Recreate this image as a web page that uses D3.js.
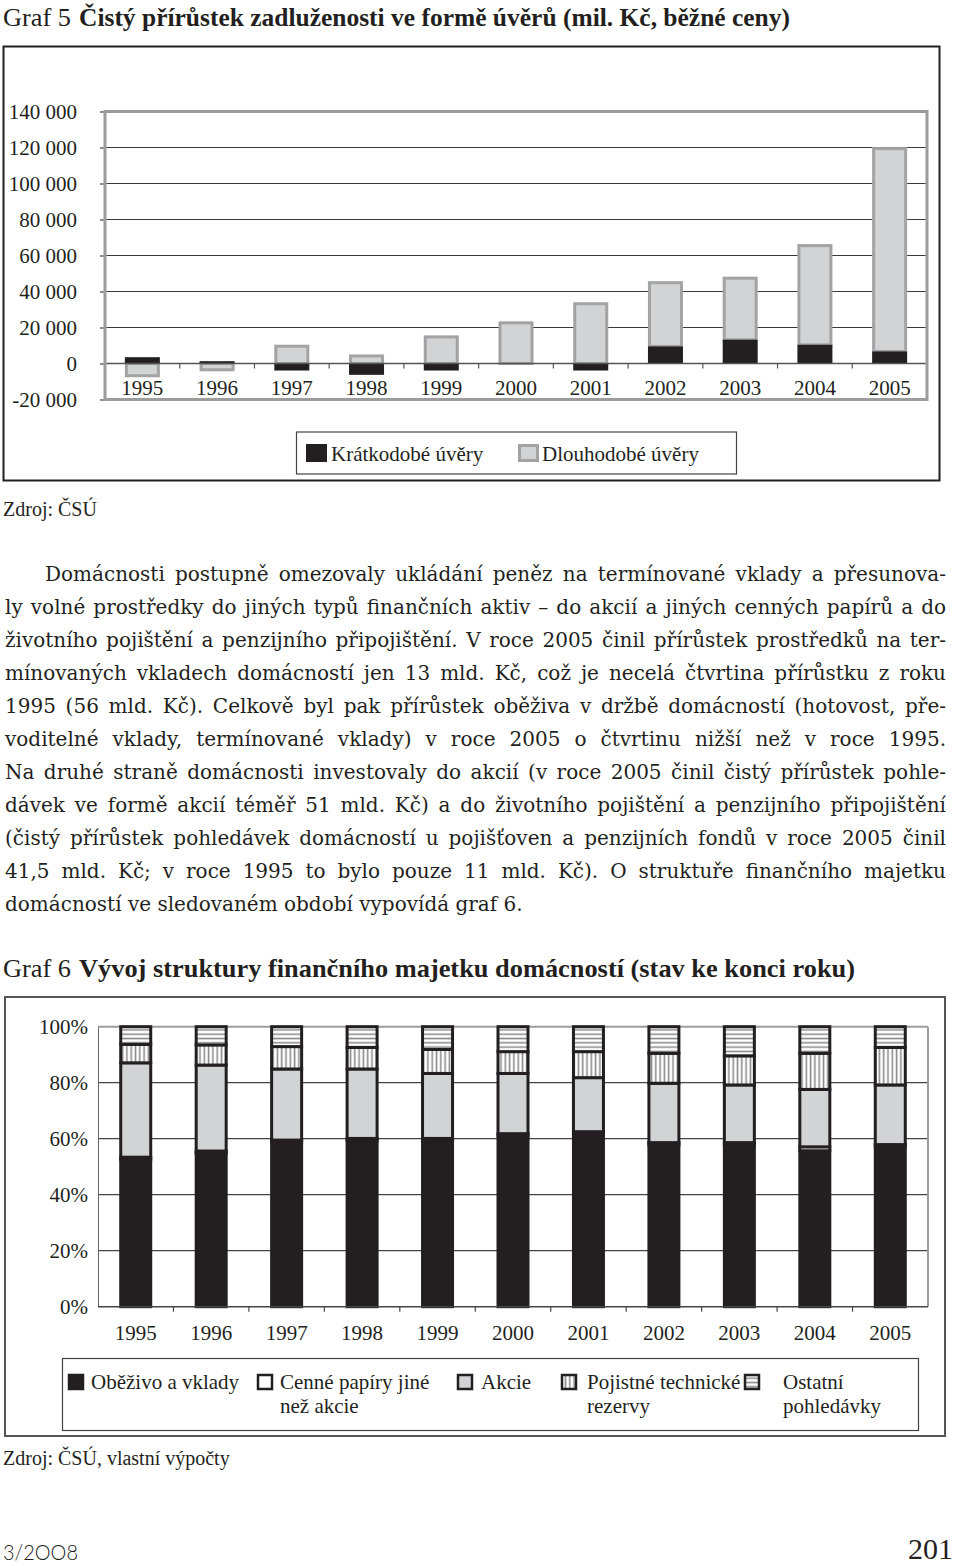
<!DOCTYPE html>
<html>
<head>
<meta charset="utf-8">
<script src="https://cdn.jsdelivr.net/npm/d3@7"></script>
<style>
body { margin: 0; background: #fff; }
svg { display: block; }
</style>
</head>
<body>
<svg id="page" width="960" height="1566"></svg>
<script>
// --- Graf 5: net increase of loans (mil. Kc)
var years = ["1995", "1996", "1997", "1998", "1999", "2000", "2001", "2002", "2003", "2004", "2005"];
var kratkodobe = [3500, 1300, -3900, -6300, -3900, 0, -3900, 9500, 13200, 10400, 6700];
var dlouhodobe = [-6800, -3500, 9600, 4200, 14800, 22600, 33200, 35400, 34200, 55100, 112700];
var loanTicks = [-20000, 0, 20000, 40000, 60000, 80000, 100000, 120000, 140000];
var loanNames = ["Krátkodobé úvěry", "Dlouhodobé úvěry"];

// --- Graf 6: structure of household financial assets (%)
var obezivo = [52.6, 54.8, 58.7, 59.3, 59.3, 61.0, 61.7, 57.8, 57.8, 55.7, 57.1];
var cennePapiry = [0.8, 0.8, 0.8, 0.8, 0.8, 0.8, 0.8, 0.8, 0.8, 1.4, 0.8];
var akcie = [33.7, 30.7, 25.4, 24.8, 23.2, 21.5, 19.3, 21.2, 20.6, 20.5, 21.3];
var pojistne = [6.6, 7.2, 8.0, 7.7, 8.6, 7.8, 9.3, 10.7, 10.4, 12.9, 13.4];
var ostatni = [6.3, 6.5, 7.1, 7.4, 8.1, 8.9, 8.9, 9.5, 10.4, 9.5, 7.4];
var shareTicks = [0, 20, 40, 60, 80, 100];
var assetNames = [["Oběživo a vklady"], ["Cenné papíry jiné", "než akcie"], ["Akcie"],
                  ["Pojistné technické", "rezervy"], ["Ostatní", "pohledávky"]];

var bodyLines = [
  "Domácnosti postupně omezovaly ukládání peněz na termínované vklady a přesunova-",
  "ly volné prostředky do jiných typů finančních aktiv – do akcií a jiných cenných papírů a do",
  "životního pojištění a penzijního připojištění. V roce 2005 činil přírůstek prostředků na ter-",
  "mínovaných vkladech domácností jen 13 mld. Kč, což je necelá čtvrtina přírůstku z roku",
  "1995 (56 mld. Kč). Celkově byl pak přírůstek oběživa v držbě domácností (hotovost, pře-",
  "voditelné vklady, termínované vklady) v roce 2005 o čtvrtinu nižší než v roce 1995.",
  "Na druhé straně domácnosti investovaly do akcií (v roce 2005 činil čistý přírůstek pohle-",
  "dávek ve formě akcií téměř 51 mld. Kč) a do životního pojištění a penzijního připojištění",
  "(čistý přírůstek pohledávek domácností u pojišťoven a penzijních fondů v roce 2005 činil",
  "41,5 mld. Kč; v roce 1995 to bylo pouze 11 mld. Kč). O struktuře finančního majetku",
  "domácností ve sledovaném období vypovídá graf 6."
];

var serif = "'Liberation Serif', 'Times New Roman', serif";
var bodyFont = "'DejaVu Serif', serif";
var dark = "#231f20";

var svg = d3.select("#page");

var defs = svg.append("defs");
var vp = defs.append("pattern").attr("id", "vstripe").attr("patternUnits", "userSpaceOnUse")
    .attr("width", 4.3).attr("height", 10);
vp.append("rect").attr("width", 4.3).attr("height", 10).attr("fill", "#fff");
vp.append("rect").attr("x", 1.4).attr("width", 1.6).attr("height", 10).attr("fill", "#8c8c8c");
var hp = defs.append("pattern").attr("id", "hstripe").attr("patternUnits", "userSpaceOnUse")
    .attr("width", 10).attr("height", 4.3);
hp.append("rect").attr("width", 10).attr("height", 4.3).attr("fill", "#fff");
hp.append("rect").attr("y", 1.4).attr("width", 10).attr("height", 1.6).attr("fill", "#8c8c8c");

function title(baseline, num, bold, boldLen) {
  svg.append("text").attr("x", 3).attr("y", baseline)
      .attr("font-family", serif).attr("font-size", 25).attr("fill", dark)
      .attr("textLength", 68).attr("lengthAdjust", "spacingAndGlyphs").text(num);
  svg.append("text").attr("x", 79).attr("y", baseline)
      .attr("font-family", serif).attr("font-size", 25).attr("font-weight", "bold").attr("fill", dark)
      .attr("textLength", boldLen).attr("lengthAdjust", "spacingAndGlyphs").text(bold);
}

title(26, "Graf 5", "Čistý přírůstek zadluženosti ve formě úvěrů (mil. Kč, běžné ceny)", 711);

// ================= Graf 5 =================
svg.append("rect").attr("x", 3.5).attr("y", 46.5).attr("width", 936).attr("height", 434)
    .attr("fill", "none").attr("stroke", dark).attr("stroke-width", 2);

var x1 = d3.scaleBand().domain(years).range([105, 927]);
var y1 = d3.scaleLinear().domain([-20000, 140000]).range([399.5, 111.5]);

var g1 = svg.append("g");

g1.selectAll(".grid1").data(loanTicks.filter(function(d) { return d > 0 && d < 140000; }))
  .enter().append("line")
    .attr("x1", 105).attr("x2", 927)
    .attr("y1", function(d) { return y1(d); }).attr("y2", function(d) { return y1(d); })
    .attr("stroke", "#3a3a3a").attr("stroke-width", 1.2);

var fmt = function(v) { return d3.format(",")(v).replace(/,/g, " ").replace("−", "-"); };
var yAxis1 = g1.append("g").attr("transform", "translate(105,0)")
    .call(d3.axisLeft(y1).tickValues(loanTicks).tickSize(5).tickPadding(23).tickFormat(fmt));
yAxis1.select(".domain").remove();
yAxis1.selectAll("line").attr("stroke", dark);
yAxis1.selectAll("text").attr("font-family", serif).attr("font-size", 21).attr("fill", dark);

var loanRows = years.map(function(y, i) { return {year: y, k: kratkodobe[i], d: dlouhodobe[i]}; });
var loanStack = d3.stack().keys(["k", "d"]).offset(d3.stackOffsetDiverging)(loanRows);

var bw1 = 32;
g1.append("g").selectAll("rect").data(loanStack[1])
  .enter().append("rect")
    .attr("x", function(d) { return x1(d.data.year) + x1.bandwidth() / 2 - bw1 / 2; })
    .attr("y", function(d) { return y1(Math.max(d[0], d[1])); })
    .attr("width", bw1)
    .attr("height", function(d) { return Math.abs(y1(d[0]) - y1(d[1])); })
    .attr("fill", "#d1d3d4").attr("stroke", "#a3a3a3").attr("stroke-width", 3);
g1.append("g").selectAll("rect").data(loanStack[0])
  .enter().append("rect")
    .attr("x", function(d) { return x1(d.data.year) + x1.bandwidth() / 2 - (bw1 + 3) / 2; })
    .attr("y", function(d) { return y1(Math.max(d[0], d[1])); })
    .attr("width", bw1 + 3)
    .attr("height", function(d) { return Math.abs(y1(d[0]) - y1(d[1])); })
    .attr("fill", dark);

// zero line + category ticks
g1.append("line").attr("x1", 105).attr("x2", 927).attr("y1", y1(0)).attr("y2", y1(0))
    .attr("stroke", "#555").attr("stroke-width", 1.4);
g1.selectAll(".xt1").data(years.slice(1)).enter().append("line")
    .attr("x1", function(d) { return x1(d); }).attr("x2", function(d) { return x1(d); })
    .attr("y1", y1(0)).attr("y2", y1(0) + 5).attr("stroke", "#555").attr("stroke-width", 1.2);

g1.selectAll(".xl1").data(years).enter().append("text")
    .attr("x", function(d) { return x1(d) + x1.bandwidth() / 2; }).attr("y", 395)
    .attr("text-anchor", "middle").attr("font-family", serif).attr("font-size", 21).attr("fill", dark)
    .text(function(d) { return d; });

// plot frame
g1.append("rect").attr("x", 105).attr("y", 111.5).attr("width", 822).attr("height", 288)
    .attr("fill", "none").attr("stroke", "#9c9c9c").attr("stroke-width", 3);

// legend 1
var l1 = svg.append("g");
l1.append("rect").attr("x", 296.5).attr("y", 432).attr("width", 440).attr("height", 42)
    .attr("fill", "#fff").attr("stroke", "#444").attr("stroke-width", 1.2);
l1.append("rect").attr("x", 306).attr("y", 444).attr("width", 21).attr("height", 18).attr("fill", dark);
l1.append("rect").attr("x", 519.5).attr("y", 445.5).attr("width", 18).attr("height", 15)
    .attr("fill", "#d1d3d4").attr("stroke", "#a3a3a3").attr("stroke-width", 3);
l1.selectAll(".lt").data(loanNames).enter().append("text")
    .attr("x", function(d, i) { return i ? 542 : 331; }).attr("y", 461)
    .attr("font-family", serif).attr("font-size", 21).attr("fill", dark)
    .text(function(d) { return d; });

svg.append("text").attr("x", 3).attr("y", 516).attr("font-family", serif).attr("font-size", 20)
    .attr("fill", dark).text("Zdroj: ČSÚ");

// ================= body text =================
var body = svg.append("g");
bodyLines.forEach(function(line, i) {
  var x0 = i === 0 ? 45 : 5;
  var t = body.append("text").attr("x", x0).attr("y", 581 + 33 * i)
      .attr("font-family", bodyFont).attr("font-size", 20).attr("fill", dark).text(line);
  var natural = t.node().getComputedTextLength();
  var target = 946 - x0;
  if (i < bodyLines.length - 1) {
    var spaces = (line.match(/ /g) || []).length;
    if (natural < target) {
      t.attr("word-spacing", (target - natural) / spaces);
    } else {
      t.attr("textLength", target).attr("lengthAdjust", "spacingAndGlyphs");
    }
  }
});

// ================= Graf 6 =================
title(977, "Graf 6", "Vývoj struktury finančního majetku domácností (stav ke konci roku)", 776);

svg.append("rect").attr("x", 5).attr("y", 997).attr("width", 940).attr("height", 439)
    .attr("fill", "none").attr("stroke", "#555").attr("stroke-width", 2);

var x2 = d3.scaleBand().domain(years).range([98, 928]);
var y2 = d3.scaleLinear().domain([0, 100]).range([1306.7, 1026.7]);
var g2 = svg.append("g");

g2.selectAll(".grid2").data(shareTicks.filter(function(d) { return d > 0 && d < 100; }))
  .enter().append("line")
    .attr("x1", 98).attr("x2", 928)
    .attr("y1", function(d) { return y2(d); }).attr("y2", function(d) { return y2(d); })
    .attr("stroke", "#444").attr("stroke-width", 1.2);
g2.append("line").attr("x1", 98).attr("x2", 928).attr("y1", y2(100)).attr("y2", y2(100))
    .attr("stroke", "#9c9c9c").attr("stroke-width", 2);
g2.append("line").attr("x1", 928).attr("x2", 928).attr("y1", y2(100)).attr("y2", y2(0))
    .attr("stroke", "#9c9c9c").attr("stroke-width", 2);

var yAxis2 = g2.append("g").attr("transform", "translate(98,0)")
    .call(d3.axisLeft(y2).tickValues(shareTicks).tickSize(0).tickPadding(10)
      .tickFormat(function(d) { return d + "%"; }));
yAxis2.select(".domain").attr("stroke", "#666");
yAxis2.selectAll("text").attr("font-family", serif).attr("font-size", 21).attr("fill", dark);

var assetRows = years.map(function(y, i) {
  return {year: y, a: obezivo[i], b: cennePapiry[i], c: akcie[i], d: pojistne[i], e: ostatni[i]};
});
var assetKeys = ["a", "b", "c", "d", "e"];
var assetFills = [dark, "#fff", "#d1d3d4", "url(#vstripe)", "url(#hstripe)"];
var assetStack = d3.stack().keys(assetKeys)(assetRows);

var bw2 = 30;
g2.selectAll(".series").data(assetStack).enter().append("g")
    .attr("fill", function(d, i) { return assetFills[i]; })
  .selectAll("rect").data(function(d) { return d; }).enter().append("rect")
    .attr("x", function(d) { return x2(d.data.year) + x2.bandwidth() / 2 - bw2 / 2; })
    .attr("y", function(d) { return y2(d[1]); })
    .attr("width", bw2)
    .attr("height", function(d) { return y2(d[0]) - y2(d[1]); })
    .attr("stroke", dark).attr("stroke-width", 3);

g2.append("line").attr("x1", 98).attr("x2", 928).attr("y1", y2(0)).attr("y2", y2(0))
    .attr("stroke", "#444").attr("stroke-width", 1.4);
g2.selectAll(".xt2").data(years.slice(1)).enter().append("line")
    .attr("x1", function(d) { return x2(d); }).attr("x2", function(d) { return x2(d); })
    .attr("y1", y2(0)).attr("y2", y2(0) + 5).attr("stroke", "#444").attr("stroke-width", 1.2);
g2.selectAll(".xl2").data(years).enter().append("text")
    .attr("x", function(d) { return x2(d) + x2.bandwidth() / 2; }).attr("y", 1340)
    .attr("text-anchor", "middle").attr("font-family", serif).attr("font-size", 21).attr("fill", dark)
    .text(function(d) { return d; });

// legend 2
var l2 = svg.append("g");
l2.append("rect").attr("x", 62.5).attr("y", 1358.5).attr("width", 856).attr("height", 72)
    .attr("fill", "#fff").attr("stroke", "#444").attr("stroke-width", 1.2);
var swatchX = [69, 258, 458, 562, 745];
var textX = [91, 280, 481, 587, 783];
var items = l2.selectAll(".item").data(assetNames).enter().append("g");
items.append("rect")
    .attr("x", function(d, i) { return swatchX[i]; }).attr("y", 1375)
    .attr("width", 14).attr("height", 14)
    .attr("fill", function(d, i) { return assetFills[i]; })
    .attr("stroke", dark).attr("stroke-width", 2.5);
items.each(function(d, i) {
  d3.select(this).selectAll("text").data(d).enter().append("text")
      .attr("x", textX[i]).attr("y", function(s, j) { return 1389 + 24 * j; })
      .attr("font-family", serif).attr("font-size", 21).attr("fill", dark)
      .text(function(s) { return s; });
});

svg.append("text").attr("x", 3).attr("y", 1465).attr("font-family", serif).attr("font-size", 20)
    .attr("fill", dark).text("Zdroj: ČSÚ, vlastní výpočty");

// footer
svg.append("text").attr("x", 3).attr("y", 1560).attr("font-family", "Lato, 'DejaVu Sans', sans-serif")
    .attr("font-weight", 300).attr("font-size", 22).attr("fill", dark)
    .attr("textLength", 75).attr("lengthAdjust", "spacingAndGlyphs").text("3/2OO8");
svg.append("text").attr("x", 953).attr("y", 1559).attr("text-anchor", "end")
    .attr("font-family", serif).attr("font-size", 30).attr("fill", dark).text("201");
</script>
</body>
</html>
